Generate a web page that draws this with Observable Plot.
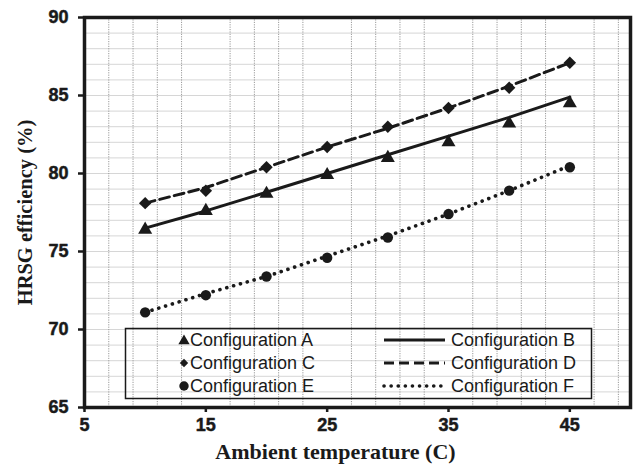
<!DOCTYPE html>
<html>
<head>
<meta charset="utf-8">
<script src="https://cdn.jsdelivr.net/npm/d3@7"></script>
<script src="https://cdn.jsdelivr.net/npm/@observablehq/plot@0.6"></script>
<style>
  html, body { margin: 0; padding: 0; background: #fff; }
  #wrap { position: relative; width: 633px; height: 472px; }
  #legend { position: absolute; left: 0; top: 0; pointer-events: none; }
</style>
</head>
<body>
<div id="wrap"></div>
<script>
// ---- data ----
const temps = [10, 15, 20, 25, 30, 35, 40, 45];
const configA = [76.4, 77.6, 78.7, 79.9, 81.0, 82.0, 83.2, 84.5];
const configB = [76.5, 77.6, 78.8, 80.0, 81.2, 82.4, 83.6, 84.9];
const configC = [78.1, 78.9, 80.4, 81.7, 83.0, 84.2, 85.5, 87.1];
const configD = [78.1, 79.1, 80.4, 81.7, 82.9, 84.2, 85.6, 87.1];
const configE = [71.1, 72.2, 73.4, 74.6, 75.9, 77.4, 78.9, 80.4];
const configF = [71.1, 72.3, 73.4, 74.7, 76.0, 77.4, 78.9, 80.5];
const xTicks = [5, 15, 25, 35, 45];
const yTicks = [65, 70, 75, 80, 85, 90];
const xMinorGrid = [7, 9, 11, 13, 17, 19, 21, 23, 27, 29, 31, 33, 37, 39, 41, 43, 47, 49];
const yGrid = d3.range(66, 90, 1);
const xLabel = "Ambient temperature (C)";
const yLabel = "HRSG efficiency (%)";
const markerNames = ["Configuration A", "Configuration C", "Configuration E"];
const lineNames = ["Configuration B", "Configuration D", "Configuration F"];

const toRows = (vals) => temps.map((t, i) => ({x: t, y: vals[i]}));
const ink = "#1a1a1a";
const sans = "Liberation Sans, Arial, sans-serif";
const serif = "Liberation Serif, Times New Roman, serif";

const chart = Plot.plot({
  width: 633,
  height: 472,
  marginLeft: 84,
  marginRight: 3,
  marginTop: 17,
  marginBottom: 65,
  style: {background: "#fff", overflow: "visible"},
  x: {domain: [5, 50]},
  y: {domain: [65, 90]},
  marks: [
    Plot.gridY(yGrid, {stroke: "#d6d6d6", strokeOpacity: 1, strokeWidth: 1}),
    Plot.gridX(xMinorGrid, {stroke: "#9a9a9a", strokeOpacity: 1, strokeWidth: 1, strokeDasharray: "1.2 1.2"}),
    Plot.line(toRows(configB), {x: "x", y: "y", stroke: ink, strokeWidth: 3}),
    Plot.line(toRows(configD), {x: "x", y: "y", stroke: ink, strokeWidth: 3, strokeDasharray: "10 5"}),
    Plot.line(toRows(configF), {x: "x", y: "y", stroke: ink, strokeWidth: 3.6, strokeDasharray: "0.1 7", strokeLinecap: "round"}),
    Plot.dot(toRows(configA), {x: "x", y: "y", symbol: "triangle", r: 5.2, fill: ink, stroke: null}),
    Plot.dot(toRows(configC), {x: "x", y: "y", symbol: "diamond2", r: 5.6, fill: ink, stroke: null}),
    Plot.dot(toRows(configE), {x: "x", y: "y", symbol: "circle", r: 5.2, fill: ink, stroke: null}),
    Plot.frame({stroke: ink, strokeWidth: 3.5}),
    // tick marks (labels drawn separately as bold text)
    Plot.axisY(yTicks, {tickSize: 6, tickFormat: () => "", stroke: ink, strokeWidth: 2.5, label: null}),
    Plot.axisX(xTicks, {tickSize: 5, tickFormat: () => "", stroke: ink, strokeWidth: 2.5, label: null}),
    Plot.text(yTicks, {y: d => d, frameAnchor: "left", textAnchor: "end", dx: -16, text: d => String(d),
      fontSize: 18, fontWeight: "bold", fontFamily: sans, fill: ink, stroke: ink, strokeWidth: 0.5}),
    Plot.text(xTicks, {x: d => d, frameAnchor: "bottom", textAnchor: "middle", dy: 23, text: d => String(d),
      fontSize: 18, fontWeight: "bold", fontFamily: sans, fill: ink, stroke: ink, strokeWidth: 0.5}),
    Plot.text([yLabel], {frameAnchor: "left", textAnchor: "middle", dx: -59, rotate: -90, fontSize: 20.5, fontWeight: "bold", fontFamily: serif, fill: ink}),
    Plot.text([xLabel], {frameAnchor: "bottom", textAnchor: "middle", dx: -22, dy: 51, fontSize: 22, fontWeight: "bold", fontFamily: serif, fill: ink})
  ]
});

const wrap = document.getElementById("wrap");
wrap.appendChild(chart);

// ---- legend (overlay inside plot area) ----
const lg = d3.select(wrap).append("svg")
  .attr("id", "legend")
  .attr("width", 633).attr("height", 472);
lg.append("rect")
  .attr("x", 125.5).attr("y", 328.5).attr("width", 466).attr("height", 70)
  .attr("fill", "none").attr("stroke", ink).attr("stroke-width", 1.5);
const rowY = [340, 363, 386];
const symbols = [d3.symbolTriangle, d3.symbolDiamond2, d3.symbolCircle];
const symSizes = [55, 45, 70];
markerNames.forEach((name, i) => {
  lg.append("path")
    .attr("d", d3.symbol(symbols[i], symSizes[i])())
    .attr("transform", `translate(184,${rowY[i] + (i === 0 ? 1 : 0)})`)
    .attr("fill", ink);
  lg.append("text")
    .attr("x", 190).attr("y", rowY[i]).attr("dy", "0.36em")
    .attr("font-family", sans).attr("font-size", 18).attr("fill", ink)
    .text(name);
});
const dashes = [null, "10 5", "0.1 7"];
const widths = [3, 3, 3.6];
lineNames.forEach((name, i) => {
  const l = lg.append("line")
    .attr("x1", 384).attr("x2", 445).attr("y1", rowY[i]).attr("y2", rowY[i])
    .attr("stroke", ink).attr("stroke-width", widths[i]).attr("stroke-linecap", i === 2 ? "round" : "butt");
  if (dashes[i]) l.attr("stroke-dasharray", dashes[i]);
  lg.append("text")
    .attr("x", 451).attr("y", rowY[i]).attr("dy", "0.36em")
    .attr("font-family", sans).attr("font-size", 18).attr("fill", ink)
    .text(name);
});
</script>
</body>
</html>
